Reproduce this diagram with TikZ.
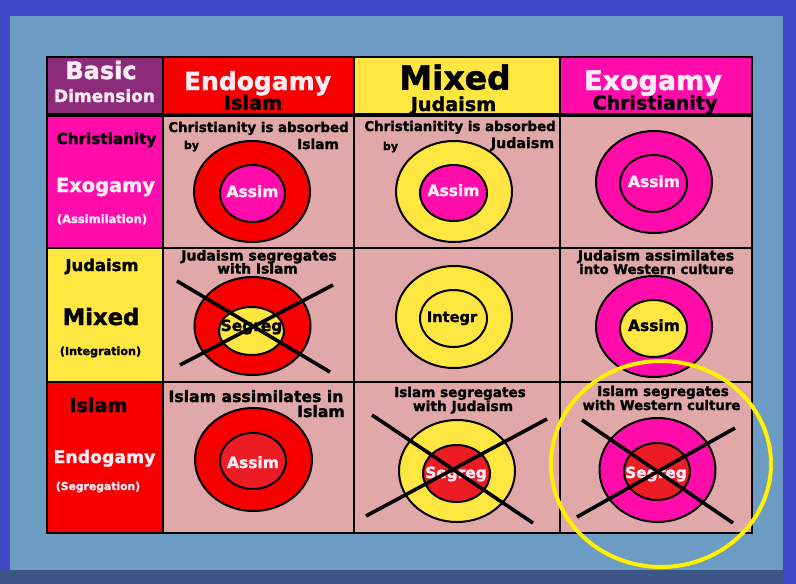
\documentclass[tikz,border=0pt]{standalone}
\usepackage{fontspec}
\setmainfont{DejaVu Sans}[BoldFeatures={FakeBold=1.6}]
\definecolor{bgblue}{RGB}{64,72,200}
\definecolor{panel}{RGB}{108,156,196}
\definecolor{navy}{RGB}{59,85,134}
\definecolor{hpurple}{RGB}{139,43,122}
\definecolor{cred}{RGB}{248,0,0}
\definecolor{ired}{RGB}{236,28,36}
\definecolor{cyel}{RGB}{255,230,64}
\definecolor{cmag}{RGB}{255,12,170}
\definecolor{cpink}{RGB}{224,168,168}
\definecolor{wtxt}{RGB}{252,236,246}
\definecolor{hl}{RGB}{255,242,0}
\newcommand\fs[1]{\fontsize{#1}{#1}\selectfont\bfseries}
\begin{document}
\begin{tikzpicture}[x=1pt,y=-1pt,
  txt/.style={anchor=base,inner sep=0pt},
  ring/.style={draw=black,line width=2pt},
  grid/.style={draw=black,line width=2.6pt},
  crossline/.style={draw=black,line width=3.6pt}]
\useasboundingbox (0,0) rectangle (796,584);
\fill[bgblue] (0,0) rectangle (796,584);
\fill[panel] (10,16) rectangle (783,570);
\fill[navy] (0,570) rectangle (783,584);
% cells
\fill[hpurple] (47,57) rectangle (163,115);
\fill[cred] (163,57) rectangle (354,115);
\fill[cyel] (354,57) rectangle (560,115);
\fill[cmag] (560,57) rectangle (752,115);
\fill[cmag] (47,115) rectangle (163,248);
\fill[cyel] (47,248) rectangle (163,382);
\fill[cred] (47,382) rectangle (163,533);
\fill[cpink] (163,115) rectangle (752,533);
% grid
\draw[grid] (47,57) rectangle (752,533);
\foreach \x in {163,354,560} \draw[grid] (\x,57) -- (\x,533);
\draw[grid,line width=3.6pt] (47,115) -- (752,115);
\foreach \y in {248,382} \draw[grid] (47,\y) -- (752,\y);
% header texts
\node[txt,text=wtxt] (basic) at (101,79) {\fs{24}Basic};
\node[txt,text=wtxt] (dim) at (104.5,102) {\fs{17}Dimension};
\node[txt,text=wtxt] (hendo) at (257.5,90) {\fs{25}Endogamy};
\node[txt] (hislam) at (253,109.5) {\fs{19.3}Islam};
\node[txt] (hmixed) at (455,89.5) {\fs{33}Mixed};
\node[txt] (hjud) at (453.5,111) {\fs{19.2}Judaism};
\node[txt,text=wtxt] (hexo) at (653,90) {\fs{27}Exogamy};
\node[txt] (hchr) at (655,109.5) {\fs{19}Christianity};
% left column
\node[txt] (lchr) at (106.5,144) {\fs{15.2}Christianity};
\node[txt,text=wtxt] (lexo) at (105.5,192) {\fs{19.4}Exogamy};
\node[txt,text=wtxt] (lass) at (102,223) {\fs{11.5}(Assimilation)};
\node[txt] (ljud) at (102,271) {\fs{16.4}Judaism};
\node[txt] (lmix) at (101,325) {\fs{22.7}Mixed};
\node[txt] (lint) at (100.5,355) {\fs{11.2}(Integration)};
\node[txt] (lisl) at (98.5,412) {\fs{19.2}Islam};
\node[txt,text=wtxt] (lendo) at (104.5,463) {\fs{17.3}Endogamy};
\node[txt,text=wtxt] (lseg) at (98,490) {\fs{10.8}(Segregation)};
% row 1
\draw[ring,fill=cred] (252,191.5) ellipse [x radius=58,y radius=50.5];
\draw[ring,fill=cmag] (252.5,193.5) ellipse [x radius=32.5,y radius=28.5];
\draw[ring,fill=cyel] (454,191.5) ellipse [x radius=58,y radius=50.5];
\draw[ring,fill=cmag] (453.5,193) ellipse [x radius=33.5,y radius=28];
\draw[ring,fill=cmag] (654,182) ellipse [x radius=58,y radius=51];
\draw[ring,fill=cmag] (653.5,183.5) ellipse [x radius=33.5,y radius=28.5];
\node[txt] (t11a) at (258.5,132) {\fs{13.4}Christianity is absorbed};
\node[txt] (t11b) at (191.5,149) {\fs{11}by};
\node[txt] (t11c) at (318,149) {\fs{13.8}Islam};
\node[txt] (t12a) at (460,131) {\fs{13.4}Christianitity is absorbed};
\node[txt] (t12b) at (390.5,150) {\fs{11}by};
\node[txt] (t12c) at (522.5,148) {\fs{14.2}Judaism};
\node[txt,text=wtxt] (c11) at (252.5,197) {\fs{15.5}Assim};
\node[txt,text=wtxt] (c12) at (453.5,196) {\fs{15.5}Assim};
\node[txt,text=wtxt] (c13) at (654,187) {\fs{15.5}Assim};
% row 2
\draw[ring,fill=cred] (252.5,326) ellipse [x radius=58,y radius=49];
\draw[ring,fill=cyel] (251.5,331) ellipse [x radius=32.5,y radius=24];
\draw[ring,fill=cyel] (454,317) ellipse [x radius=58,y radius=51];
\draw[ring,fill=cyel] (453.5,318.5) ellipse [x radius=33.5,y radius=28.5];
\draw[ring,fill=cmag] (654,326.5) ellipse [x radius=58,y radius=50.5];
\draw[ring,fill=cyel] (653.5,328.5) ellipse [x radius=33.5,y radius=28.5];
\node[txt] (t21a) at (259,260.5) {\fs{14}Judaism segregates};
\node[txt] (t21b) at (257.5,273.5) {\fs{13.8}with Islam};
\node[txt] (t23a) at (656,260.5) {\fs{14}Judaism assimilates};
\node[txt] (t23b) at (656.5,274) {\fs{13.3}into Western culture};
\node[txt] (c21) at (251.5,331) {\fs{15.4}Segreg};
\node[txt] (c22) at (452,322) {\fs{14.6}Integr};
\node[txt] (c23) at (654,331) {\fs{15.5}Assim};
\coordinate (x21a) at (177,281);
\coordinate (x21b) at (330,372);
\coordinate (x21c) at (180,365);
\coordinate (x21d) at (333,285);
\draw[crossline] (x21a) -- (x21b);
\draw[crossline] (x21c) -- (x21d);
% row 3
\draw[ring,fill=cred] (253.5,459.5) ellipse [x radius=58.5,y radius=51.5];
\draw[ring,fill=ired] (253,461) ellipse [x radius=33,y radius=28];
\draw[ring,fill=cyel] (457,471) ellipse [x radius=58,y radius=51];
\draw[ring,fill=ired] (456.5,473.5) ellipse [x radius=33.5,y radius=28.5];
\draw[ring,fill=cmag] (657.5,470) ellipse [x radius=58,y radius=52];
\draw[ring,fill=ired] (657,471.5) ellipse [x radius=33,y radius=28.5];
\node[txt] (t31a) at (256,402) {\fs{15.7}Islam assimilates in};
\node[txt,anchor=base east] (t31b) at (345,417) {\fs{15.7}Islam};
\node[txt] (t32a) at (460,397) {\fs{13.6}Islam segregates};
\node[txt] (t32b) at (463,411) {\fs{13.8}with Judaism};
\node[txt] (t33a) at (663,396) {\fs{13.6}Islam segregates};
\node[txt] (t33b) at (661.5,410) {\fs{13.3}with Western culture};
\node[txt,text=wtxt] (c31) at (253,468) {\fs{15.5}Assim};
\node[txt,text=wtxt] (c32) at (456,478) {\fs{15.4}Segreg};
\node[txt,text=wtxt] (c33) at (656,478) {\fs{15.4}Segreg};
\coordinate (x32a) at (372,415);
\coordinate (x32b) at (533,523);
\coordinate (x32c) at (366,516);
\coordinate (x32d) at (547,419);
\draw[crossline] (x32a) -- (x32b);
\draw[crossline] (x32c) -- (x32d);
\coordinate (x33a) at (582,420);
\coordinate (x33b) at (733,523);
\coordinate (x33c) at (577,517);
\coordinate (x33d) at (735,428);
\draw[crossline] (x33a) -- (x33b);
\draw[crossline] (x33c) -- (x33d);
% highlight
\draw[hl,line width=4pt] (661,464) ellipse [x radius=110,y radius=103];
\end{tikzpicture}
\end{document}
